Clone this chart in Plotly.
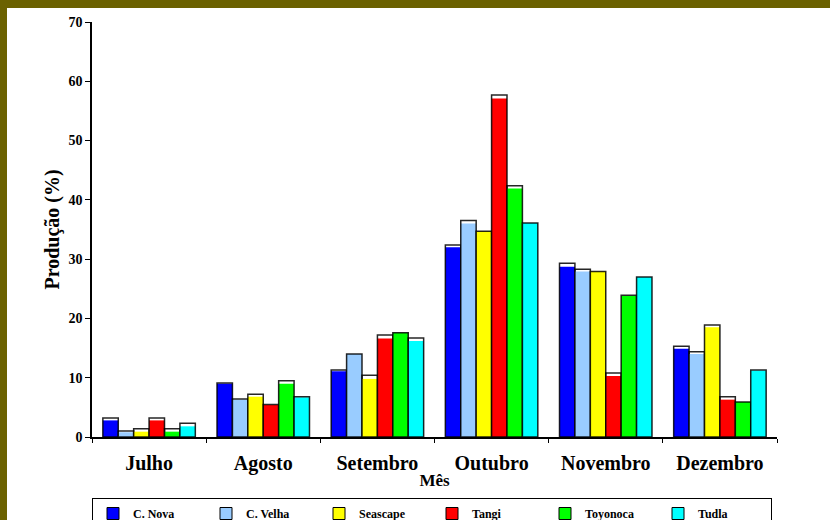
import plotly.graph_objects as go

# Months (x categories)
months = ["Julho", "Agosto", "Setembro", "Outubro", "Novembro", "Dezembro"]

# Series names and colours
series = ["C. Nova", "C. Velha", "Seascape", "Tangi", "Toyonoca", "Tudla"]
colors = ["#0000FF", "#99CCFF", "#FFFF00", "#FF0000", "#00FF00", "#00FFFF"]

# Production (%) per series - outlined bar height
c_nova_top = [3.2, 9.1, 11.3, 32.4, 29.3, 15.3]
c_velha_top = [1.0, 6.4, 14.0, 36.5, 28.3, 14.4]
seascape_top = [1.4, 7.2, 10.4, 34.7, 27.9, 18.9]
tangi_top = [3.2, 5.5, 17.2, 57.7, 10.8, 6.8]
toyonoca_top = [1.4, 9.5, 17.6, 42.4, 23.9, 5.9]
tudla_top = [2.3, 6.8, 16.7, 36.1, 27.0, 11.3]

# Production (%) per series - coloured fill height
c_nova_fill = [2.8, 9.0, 11.1, 32.0, 28.7, 14.9]
c_velha_fill = [0.8, 6.3, 14.0, 36.0, 27.9, 14.0]
seascape_fill = [0.9, 6.8, 9.8, 34.7, 27.9, 18.5]
tangi_fill = [2.8, 5.4, 16.6, 57.1, 10.3, 6.3]
toyonoca_fill = [0.9, 9.0, 17.6, 41.9, 23.8, 5.9]
tudla_fill = [1.8, 6.7, 16.2, 36.1, 27.0, 11.2]

y_ticks = [0, 10, 20, 30, 40, 50, 60, 70]

tops = [c_nova_top, c_velha_top, seascape_top, tangi_top, toyonoca_top, tudla_top]
fills = [c_nova_fill, c_velha_fill, seascape_fill, tangi_fill, toyonoca_fill, tudla_fill]

SERIF = "Liberation Serif"

fig = go.Figure()

for name, col, top, fill in zip(series, colors, tops, fills):
    # coloured body
    fig.add_trace(go.Bar(
        x=months, y=fill, name=name, offsetgroup=name,
        marker=dict(color=col, line=dict(width=0)),
        showlegend=False, hoverinfo="x+y+name",
    ))
    # outlined frame drawn over the body
    fig.add_trace(go.Bar(
        x=months, y=top, name=name, offsetgroup=name,
        marker=dict(color="rgba(255,255,255,0)",
                    line=dict(color="rgba(0,0,0,0.85)", width=1.5)),
        showlegend=False, hoverinfo="skip",
    ))
    # legend key
    fig.add_trace(go.Bar(
        x=[None], y=[None], name=name, offsetgroup=name,
        marker=dict(color=col, line=dict(color="black", width=1)),
        showlegend=True,
    ))

# plot area in pixels: x 92..777, y 22..437
L, R, T, B = 92, 53, 22, 83
W, H = 830, 520
pw, ph = W - L - R, H - T - B

def px_x(px):
    return (px - L) / pw

def px_y(py):
    return (H - B - py) / ph

olive = "#6B6100"
shapes = [
    dict(type="rect", xref="paper", yref="paper", layer="above",
         x0=px_x(0), x1=px_x(W), y0=px_y(8), y1=px_y(0),
         fillcolor=olive, line=dict(width=0)),
    dict(type="rect", xref="paper", yref="paper", layer="above",
         x0=px_x(0), x1=px_x(7), y0=px_y(H), y1=px_y(0),
         fillcolor=olive, line=dict(width=0)),
]

fig.update_layout(
    width=W, height=H,
    margin=dict(l=L, r=R, t=T, b=B, pad=0, autoexpand=False),
    paper_bgcolor="white", plot_bgcolor="white",
    barmode="group", bargap=0.19, bargroupgap=0.0,
    font=dict(family=SERIF, color="black"),
    shapes=shapes,
    showlegend=True,
    legend=dict(
        orientation="h", x=px_x(92), xanchor="left", y=px_y(498), yanchor="top",
        bgcolor="white", bordercolor="black", borderwidth=1,
        font=dict(family=SERIF, size=12, weight="bold"),
        entrywidth=68, entrywidthmode="pixels",
        itemwidth=30, tracegroupgap=0,
    ),
    xaxis=dict(
        type="category",
        showline=True, linecolor="black", linewidth=1.5,
        ticks="outside", ticklen=4, tickcolor="black",
        tickson="boundaries", ticklabelstandoff=7,
        tickfont=dict(family=SERIF, size=20, weight="bold"),
        title=dict(text="Mês", font=dict(family=SERIF, size=17, weight="bold"),
                   standoff=0),
        showgrid=False,
    ),
    yaxis=dict(
        range=[0, 70], tickvals=y_ticks,
        showline=True, linecolor="black", linewidth=1.5,
        ticks="outside", ticklen=5, tickcolor="black",
        tickfont=dict(family=SERIF, size=14, weight="bold"),
        title=dict(text="Produção (%)", font=dict(family=SERIF, size=20, weight="bold"),
                   standoff=3),
        showgrid=False, zeroline=False,
    ),
)

fig.write_html("out.html")
